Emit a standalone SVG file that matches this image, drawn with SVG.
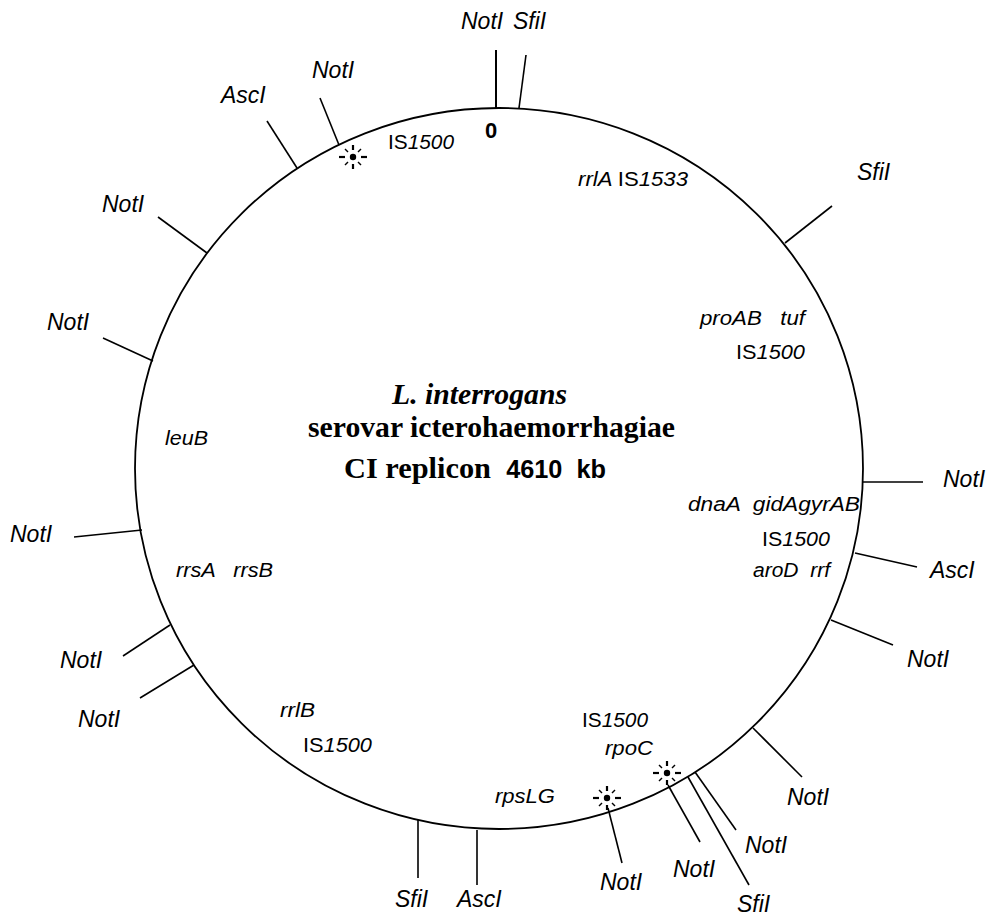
<svg xmlns="http://www.w3.org/2000/svg" width="989" height="917" viewBox="0 0 989 917">
<style>
text{white-space:pre}
.c{fill:none;stroke:#000;stroke-width:1.8}
.t{stroke:#000;stroke-width:1.6;fill:none}
.enz{font-family:"Liberation Sans",Arial,sans-serif;font-size:23px;font-style:italic;fill:#000}
.g{font-family:"Liberation Sans",Arial,sans-serif;font-size:20px;font-style:italic;fill:#000}
.r{font-style:normal}
.ttl{font-family:"Liberation Serif","Times New Roman",serif;font-weight:bold;font-size:30px;fill:#000}
.st line{stroke:#000;stroke-width:2.2}
</style>
<defs>
<g id="star">
<circle cx="0" cy="0" r="3.2" fill="#000"/>
<g class="st">
<line x1="-8" y1="0" x2="-14" y2="0"/><line x1="8" y1="0" x2="14" y2="0"/>
<line x1="0" y1="-7" x2="0" y2="-12"/><line x1="0" y1="7" x2="0" y2="12"/>
<line x1="-5" y1="-5" x2="-8" y2="-8" style="stroke-width:1.4"/><line x1="5" y1="-5" x2="8" y2="-8" style="stroke-width:1.4"/>
<line x1="-5" y1="5" x2="-8" y2="8" style="stroke-width:1.4"/><line x1="5" y1="5" x2="8" y2="8" style="stroke-width:1.4"/>
</g>
</g>
</defs>
<rect width="989" height="917" fill="#fff"/>
<g id="replicon"><ellipse class="c" cx="499" cy="468.5" rx="364" ry="360.5"/></g>
<g id="connectors">
<line class="t" x1="496" y1="108" x2="496" y2="50" style="stroke-width:2"/>
<line class="t" x1="519" y1="108" x2="526" y2="55"/>
<line class="t" x1="785" y1="243" x2="832" y2="206"/>
<line class="t" x1="339" y1="145" x2="320" y2="98"/>
<line class="t" x1="297" y1="168" x2="267" y2="121"/>
<line class="t" x1="207" y1="253" x2="158" y2="217"/>
<line class="t" x1="153" y1="361" x2="103" y2="338"/>
<line class="t" x1="142" y1="530" x2="74" y2="537"/>
<line class="t" x1="170" y1="625" x2="123" y2="656"/>
<line class="t" x1="194" y1="665" x2="140" y2="698"/>
<line class="t" x1="418" y1="820" x2="418" y2="878"/>
<line class="t" x1="477" y1="830" x2="477" y2="885"/>
<line class="t" x1="608" y1="808" x2="622" y2="863"/>
<line class="t" x1="668" y1="785" x2="700" y2="842"/>
<line class="t" x1="688" y1="777" x2="749" y2="885"/>
<line class="t" x1="695" y1="772" x2="736" y2="830"/>
<line class="t" x1="753" y1="728" x2="802" y2="777"/>
<line class="t" x1="831" y1="620" x2="893" y2="645"/>
<line class="t" x1="855" y1="553" x2="917" y2="567"/>
<line class="t" x1="863" y1="482" x2="923" y2="482"/>
</g>
<g id="markers">
<use href="#star" x="353" y="157"/>
<use href="#star" x="607" y="798"/>
<use href="#star" x="667" y="773"/>
</g>
<g id="origin"><text x="491" y="138" text-anchor="middle" style="font-family:'Liberation Sans',Arial,sans-serif;font-weight:bold;font-size:22px">0</text></g>
<g id="site-top-noti"><text class="enz" x="461" y="29">NotI</text></g>
<g id="site-top-sfii"><text class="enz" x="513" y="29">SfiI</text></g>
<g id="site-sfii-ne"><text class="enz" x="857" y="180">SfiI</text></g>
<g id="site-noti-nw1"><text class="enz" x="312" y="78">NotI</text></g>
<g id="site-asci-nw"><text class="enz" x="221" y="103">AscI</text></g>
<g id="site-noti-nw2"><text class="enz" x="102" y="212">NotI</text></g>
<g id="site-noti-w1"><text class="enz" x="47" y="330">NotI</text></g>
<g id="site-noti-w2"><text class="enz" x="10" y="542">NotI</text></g>
<g id="site-noti-sw1"><text class="enz" x="60" y="668">NotI</text></g>
<g id="site-noti-sw2"><text class="enz" x="78" y="727">NotI</text></g>
<g id="site-sfii-s"><text class="enz" x="395" y="907">SfiI</text></g>
<g id="site-asci-s"><text class="enz" x="457" y="907">AscI</text></g>
<g id="site-noti-s1"><text class="enz" x="600" y="890">NotI</text></g>
<g id="site-noti-s2"><text class="enz" x="673" y="877">NotI</text></g>
<g id="site-sfii-se"><text class="enz" x="737" y="912">SfiI</text></g>
<g id="site-noti-se1"><text class="enz" x="745" y="853">NotI</text></g>
<g id="site-noti-se2"><text class="enz" x="787" y="805">NotI</text></g>
<g id="site-noti-se3"><text class="enz" x="907" y="667">NotI</text></g>
<g id="site-asci-e"><text class="enz" x="930" y="578">AscI</text></g>
<g id="site-noti-e"><text class="enz" x="943" y="487">NotI</text></g>
<g id="gene-is1500-top"><text class="g" x="388" y="149" textLength="66" lengthAdjust="spacingAndGlyphs"><tspan class="r">IS</tspan>1500</text></g>
<g id="gene-rrla"><text class="g" x="578" y="186" textLength="110" lengthAdjust="spacingAndGlyphs">rrlA <tspan class="r">IS</tspan>1533</text></g>
<g id="gene-proab"><text class="g" x="700" y="325" textLength="105" lengthAdjust="spacingAndGlyphs">proAB   tuf</text></g>
<g id="gene-is1500-e1"><text class="g" x="736" y="359" textLength="69" lengthAdjust="spacingAndGlyphs"><tspan class="r">IS</tspan>1500</text></g>
<g id="gene-leub"><text class="g" x="165" y="445" textLength="43" lengthAdjust="spacingAndGlyphs">leuB</text></g>
<g id="gene-dnaa"><text class="g" x="688" y="511" textLength="172" lengthAdjust="spacingAndGlyphs">dnaA  gidAgyrAB</text></g>
<g id="gene-is1500-e2"><text class="g" x="762" y="546" textLength="68" lengthAdjust="spacingAndGlyphs"><tspan class="r">IS</tspan>1500</text></g>
<g id="gene-arod"><text class="g" x="753" y="577" textLength="77" lengthAdjust="spacingAndGlyphs">aroD  rrf</text></g>
<g id="gene-rrs"><text class="g" x="176" y="577" textLength="97" lengthAdjust="spacingAndGlyphs">rrsA   rrsB</text></g>
<g id="gene-rrlb"><text class="g" x="280" y="717" textLength="35" lengthAdjust="spacingAndGlyphs">rrlB</text></g>
<g id="gene-is1500-sw"><text class="g" x="303" y="752" textLength="69" lengthAdjust="spacingAndGlyphs"><tspan class="r">IS</tspan>1500</text></g>
<g id="gene-rpslg"><text class="g" x="495" y="803" textLength="60" lengthAdjust="spacingAndGlyphs">rpsLG</text></g>
<g id="gene-is1500-s"><text class="g" x="582" y="727" textLength="66" lengthAdjust="spacingAndGlyphs"><tspan class="r">IS</tspan>1500</text></g>
<g id="gene-rpoc"><text class="g" x="605" y="755" textLength="48" lengthAdjust="spacingAndGlyphs">rpoC</text></g>
<g id="title">
<text class="ttl" x="392" y="404" textLength="175" lengthAdjust="spacingAndGlyphs" style="font-style:italic">L. interrogans</text>
<text class="ttl" x="308" y="437" textLength="367" lengthAdjust="spacingAndGlyphs">serovar icterohaemorrhagiae</text>
<text class="ttl" x="344" y="478" textLength="262" lengthAdjust="spacingAndGlyphs">CI replicon  <tspan style="font-family:'Liberation Sans',Arial,sans-serif;font-size:25px">4610  kb</tspan></text>
</g>
</svg>
